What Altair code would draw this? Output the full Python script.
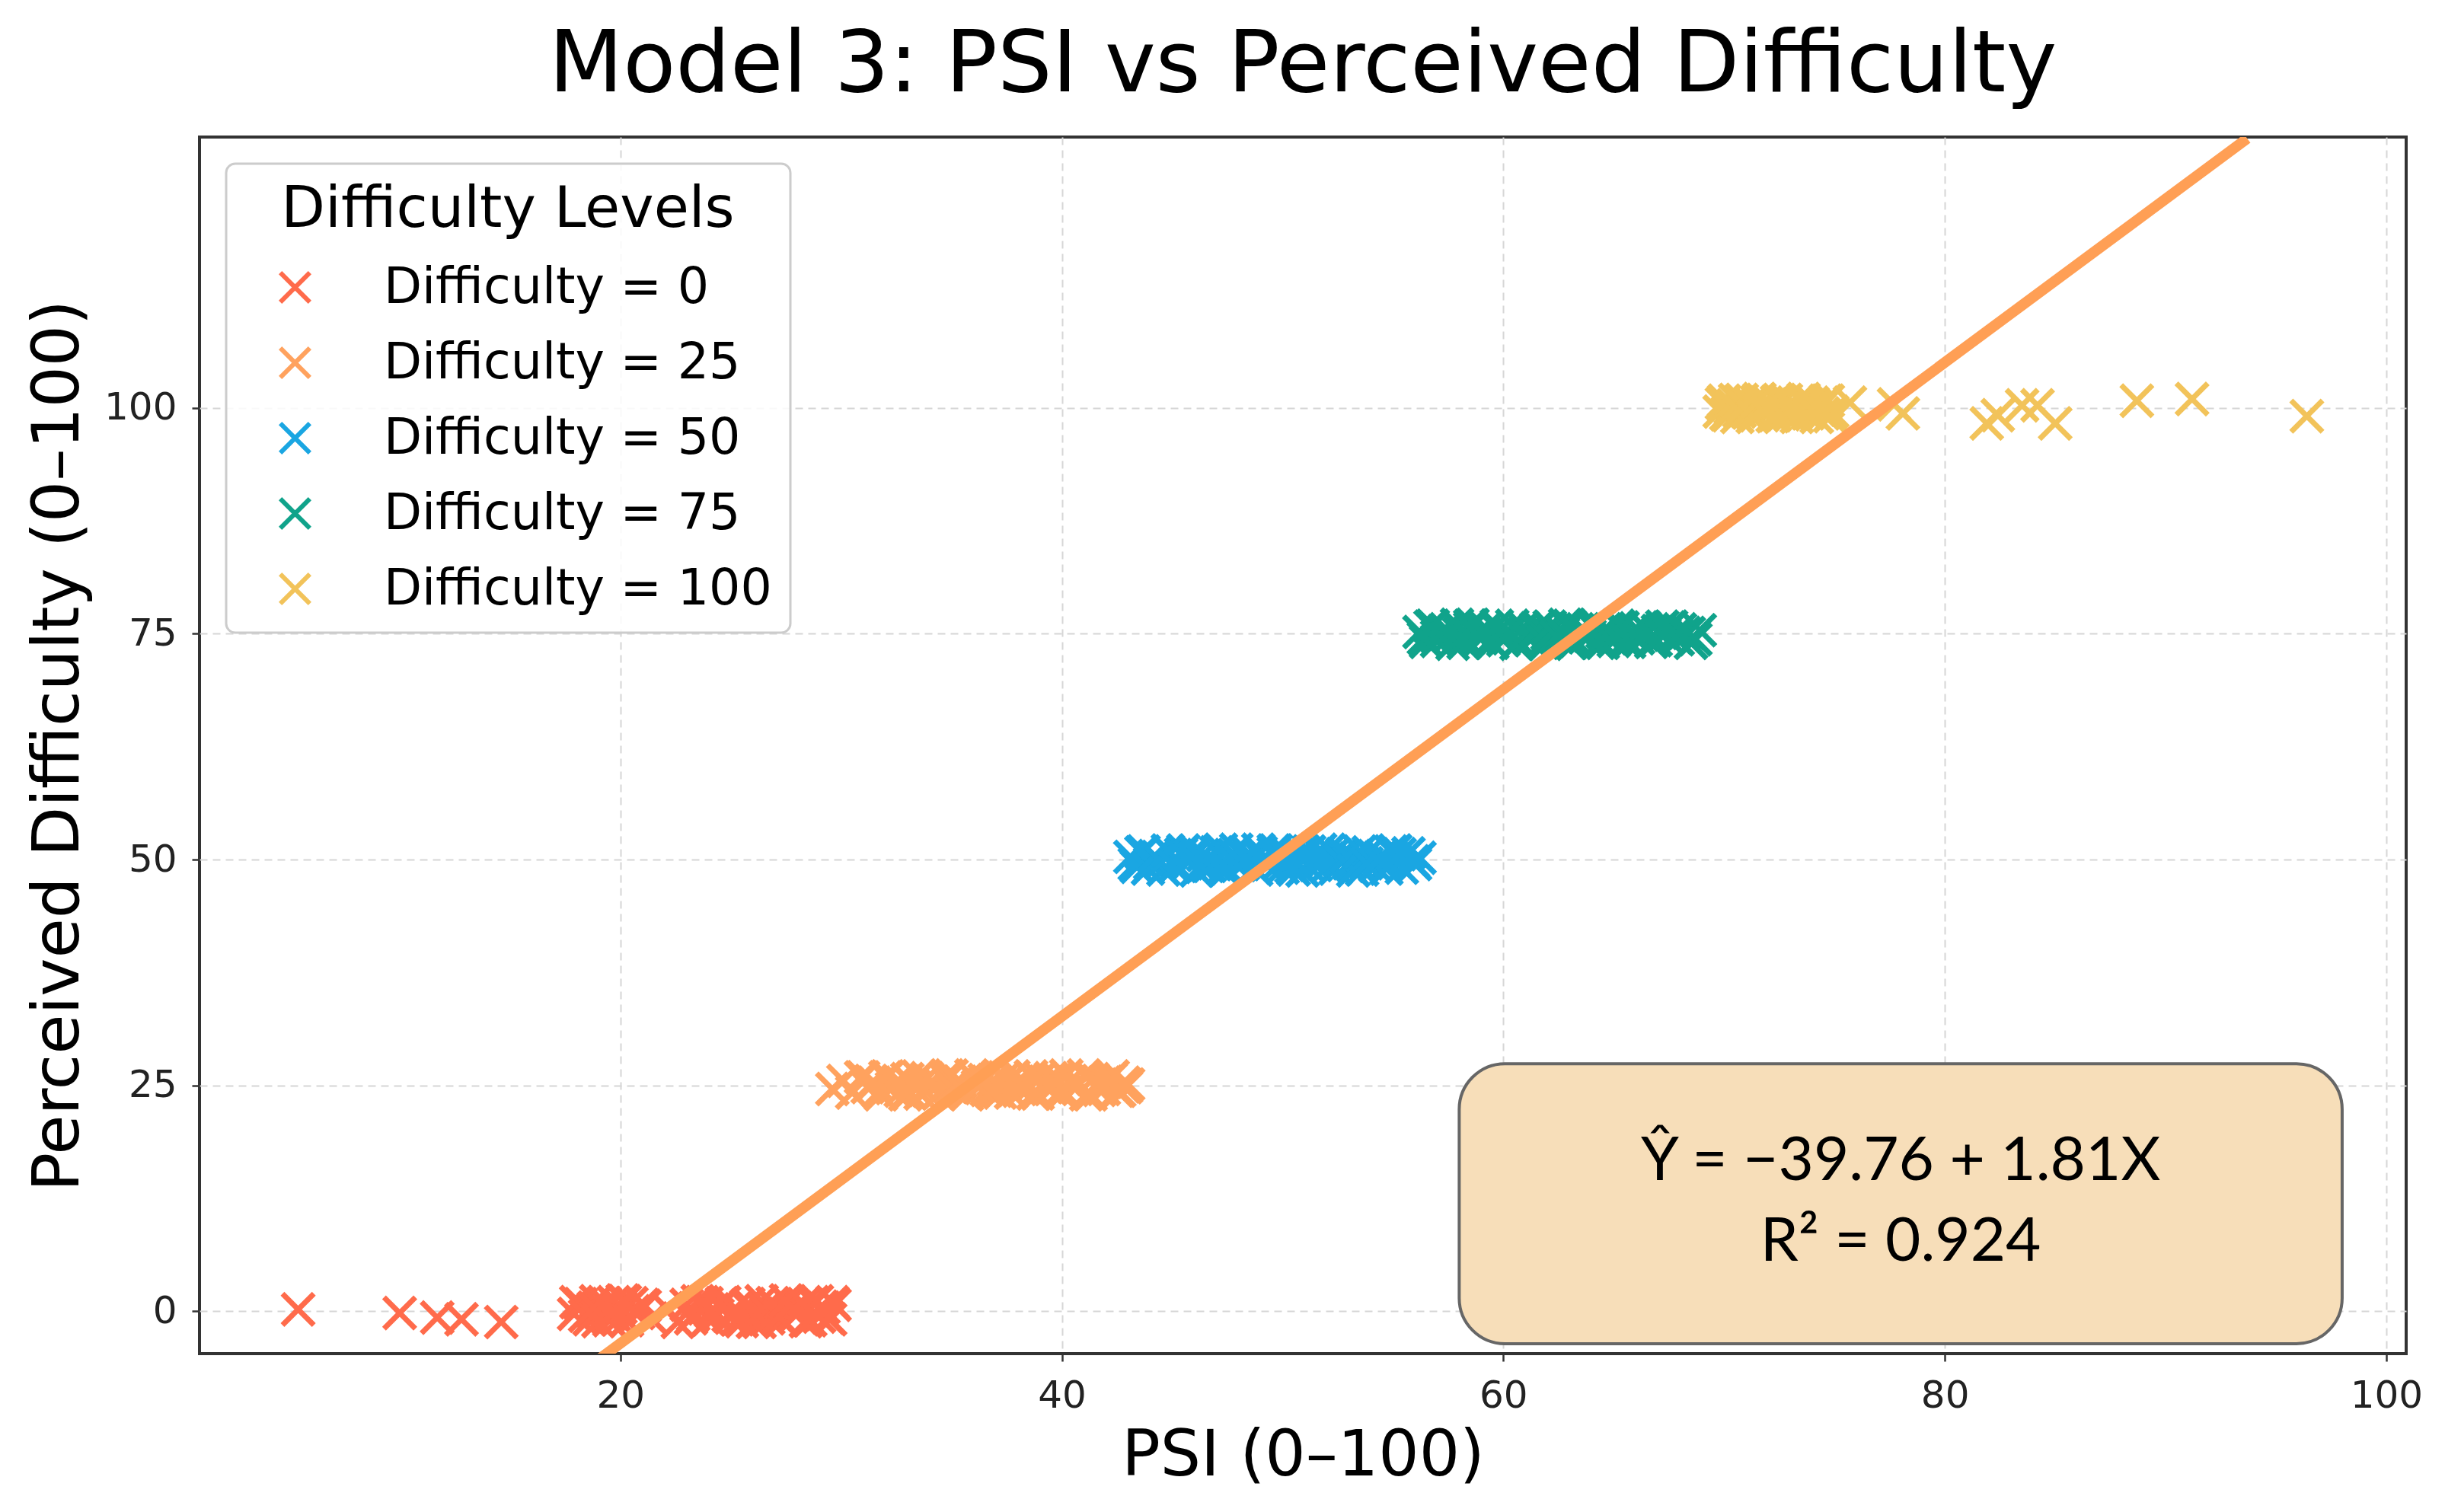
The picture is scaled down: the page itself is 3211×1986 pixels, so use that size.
import altair as alt
import pandas as pd

TITLE = "Model 3: PSI vs Perceived Difficulty"
X_TITLE = "PSI (0–100)"
Y_TITLE = "Perceived Difficulty (0–100)"
LEGEND_TITLE = "Difficulty Levels"
LEVELS = ["Difficulty = 0", "Difficulty = 25", "Difficulty = 50",
          "Difficulty = 75", "Difficulty = 100"]
COLORS = ["#FF6B4B", "#FFA25E", "#1AA6E2", "#10A38B", "#F2C35A"]
X_TICKS = [20, 40, 60, 80, 100]
Y_TICKS = [0, 25, 50, 75, 100]

x0 = [5.4, 10.0, 11.7, 12.8, 14.6,
      17.9, 18.2, 18.6, 18.9, 19.2, 19.4, 19.7, 20.0, 20.3, 20.5,
      20.8, 21.1, 21.4, 22.1, 22.6, 23.0, 23.3, 23.7, 24.0, 24.2,
      24.6, 24.9, 25.2, 25.5, 25.8, 26.1, 26.4, 26.7, 27.0, 27.3,
      27.6, 27.9, 28.2, 28.4, 28.7, 29.0, 29.2, 29.5, 29.7, 18.7,
      19.5, 20.1, 23.9, 25.0, 26.3, 27.8, 28.9]
y0 = [0.2, -0.2, -0.7, -0.9, -1.2,
      -0.3, 0.8, -0.9, 1.1, 0.2, -0.6, 1.0, 0.4, -1.0, 0.9,
      -0.2, 0.6, -0.8, 0.3, -1.2, 0.7, -0.4, 1.0, -0.9, 0.2,
      0.9, -0.5, 0.3, -1.1, 0.8, -0.2, 1.1, -0.8, 0.5, -1.0,
      0.9, -0.3, 0.6, -1.1, 1.0, -0.6, 0.4, -0.9, 0.7, 0.1,
      -1.0, 1.2, 0.9, -0.7, -1.2, 0.1, 1.1]
x0b = [18.0, 18.4, 18.8, 19.0, 19.3, 19.6, 19.9, 20.2, 20.6, 21.0,
       23.2, 23.5, 23.8, 24.4, 24.7, 25.3, 25.7, 26.0, 26.5, 26.9,
       27.2, 27.5, 28.0, 28.3, 28.6, 29.1, 29.4, 29.6, 24.1, 26.2]
y0b = [1.0, -0.5, 0.4, -1.1, 0.9, -0.2, -0.9, 1.1, 0.0, 0.7,
       -0.8, 1.1, 0.3, -0.4, 1.0, -0.9, 0.6, -1.2, 0.2, 0.9,
       -0.6, 1.2, -0.3, 0.8, -1.0, 0.5, -0.7, 1.0, 0.0, -0.3]

x25 = [29.6, 30.1, 30.5, 30.9, 31.2, 31.5, 31.8, 32.1, 32.4, 32.7,
       33.0, 33.3, 33.6, 33.9, 34.2, 34.5, 34.8, 35.1, 35.4, 35.7,
       36.0, 36.3, 36.6, 36.9, 37.2, 37.5, 37.8, 38.1, 38.4, 38.7,
       39.0, 39.3, 39.6, 39.9, 40.2, 40.5, 40.8, 41.1, 41.4, 41.7,
       42.0, 42.3, 42.6, 43.0, 31.0, 33.1, 35.0, 36.8, 38.2, 40.0,
       41.9, 34.0, 37.0, 39.5, 42.8]
y25 = [24.6, 25.5, 24.2, 25.9, 24.8, 25.3, 24.0, 26.0, 25.1, 24.4,
       25.7, 24.9, 24.1, 25.8, 25.2, 24.3, 26.1, 24.7, 25.4, 24.0,
       25.9, 25.0, 24.5, 25.6, 24.2, 25.3, 26.0, 24.6, 25.1, 24.1,
       25.8, 24.8, 25.5, 24.3, 26.1, 24.9, 25.2, 24.0, 25.7, 24.5,
       25.4, 26.0, 24.4, 25.1, 25.9, 24.2, 26.1, 24.7, 25.6, 24.1,
       25.3, 25.0, 24.4, 25.8, 24.9]
x25b = [31.4, 31.7, 32.0, 32.3, 32.6, 32.9, 33.2, 33.5, 33.8, 34.1,
        34.4, 34.7, 35.0, 35.3, 35.6, 35.9, 36.2, 36.5, 36.8, 37.1,
        37.4, 37.7, 38.0, 38.3, 38.6, 38.9, 39.2, 39.5, 39.8, 40.1,
        40.4, 40.7, 41.0, 41.3, 41.6, 41.9, 42.2, 42.5, 42.8, 42.9]
y25b = [25.2, 24.3, 25.9, 24.7, 25.5, 24.0, 25.1, 26.0, 24.5, 25.4,
        24.1, 25.8, 24.8, 25.3, 24.2, 26.1, 24.9, 25.6, 24.4, 25.0,
        25.9, 24.2, 25.4, 24.7, 26.0, 24.1, 25.2, 24.6, 25.8, 24.3,
        25.5, 24.9, 26.1, 24.0, 25.1, 24.6, 25.7, 24.4, 25.3, 24.8]

x50 = [43.1, 43.4, 43.7, 44.0, 44.3, 44.6, 44.9, 45.2, 45.5, 45.8,
       46.1, 46.4, 46.7, 47.0, 47.3, 47.6, 47.9, 48.2, 48.5, 48.8,
       49.1, 49.4, 49.7, 50.0, 50.3, 50.6, 50.9, 51.2, 51.5, 51.8,
       52.1, 52.4, 52.7, 53.0, 53.3, 53.6, 53.9, 54.2, 54.5, 54.8,
       55.1, 55.4, 55.7, 56.0, 56.2, 44.2, 45.9, 47.4, 48.9, 50.4,
       51.9, 53.4, 54.9, 46.6, 49.6]
y50 = [50.3, 49.2, 50.9, 49.6, 50.1, 48.9, 50.7, 49.4, 51.0, 49.9,
       48.8, 50.5, 49.3, 50.8, 49.0, 50.2, 51.1, 49.5, 50.6, 48.9,
       50.0, 49.7, 51.0, 49.1, 50.4, 49.8, 48.8, 50.9, 49.4, 50.3,
       51.1, 49.0, 50.6, 49.6, 50.1, 48.9, 50.8, 49.3, 50.4, 49.8,
       51.0, 49.1, 50.7, 49.5, 50.2, 49.9, 50.5, 48.8, 51.1, 49.2,
       50.0, 49.6, 50.9, 49.3, 50.7]
x50b = [43.3, 43.6, 43.9, 44.2, 44.5, 44.8, 45.1, 45.4, 45.7, 46.0,
        46.3, 46.6, 46.9, 47.2, 47.5, 47.8, 48.1, 48.4, 48.7, 49.0,
        49.3, 49.6, 49.9, 50.2, 50.5, 50.8, 51.1, 51.4, 51.7, 52.0,
        52.3, 52.6, 52.9, 53.2, 53.5, 53.8, 54.4, 54.7, 55.3, 55.9]
y50b = [49.5, 50.8, 49.0, 50.4, 49.7, 51.0, 49.2, 50.6, 49.9, 50.9,
        49.3, 50.1, 49.6, 51.1, 49.0, 50.5, 49.8, 50.2, 49.1, 50.8,
        49.4, 51.0, 49.7, 50.3, 48.9, 50.7, 49.5, 50.0, 51.1, 49.2,
        50.6, 49.9, 50.4, 48.8, 50.9, 49.6, 50.2, 49.0, 50.6, 49.8]

x75 = [56.2, 56.5, 56.8, 57.1, 57.4, 57.7, 58.0, 58.3, 58.6, 58.9,
       59.2, 59.5, 59.8, 60.1, 60.4, 60.7, 61.0, 61.3, 61.6, 61.9,
       62.2, 62.5, 62.8, 63.1, 63.4, 63.7, 64.0, 64.3, 64.6, 64.9,
       65.2, 65.5, 65.8, 66.1, 66.4, 66.7, 67.0, 67.3, 67.6, 67.9,
       68.2, 68.5, 68.9, 57.0, 58.5, 60.0, 61.5, 63.0, 64.5, 66.0,
       67.5, 59.0, 62.0, 65.0, 68.0]
y75 = [75.2, 74.1, 75.9, 74.6, 75.5, 73.9, 75.0, 74.4, 76.0, 74.8,
       75.6, 74.0, 75.3, 74.7, 75.9, 74.2, 75.1, 74.5, 75.7, 73.9,
       75.4, 74.9, 76.0, 74.3, 75.2, 74.6, 75.8, 74.0, 75.5, 74.8,
       75.9, 74.2, 75.0, 74.5, 75.7, 74.1, 75.3, 74.9, 75.8, 74.4,
       75.1, 74.0, 75.4, 74.7, 75.9, 74.3, 75.6, 74.0, 75.2, 74.8,
       75.7, 74.5, 75.0, 74.2, 75.5]
x75b = [56.4, 56.7, 57.0, 57.3, 57.6, 57.9, 58.2, 58.5, 58.8, 59.1,
        59.4, 59.7, 60.0, 60.3, 60.6, 60.9, 61.2, 61.5, 61.8, 62.1,
        62.4, 62.7, 63.0, 63.3, 63.6, 63.9, 64.2, 64.5, 64.8, 65.1,
        65.4, 65.7, 66.0, 66.3, 66.6, 66.9, 67.2, 67.8, 68.4, 68.7]
y75b = [74.5, 75.8, 74.2, 75.3, 74.8, 76.0, 74.0, 75.6, 74.9, 75.2,
        74.3, 75.9, 74.6, 75.1, 73.9, 75.7, 74.4, 75.4, 74.1, 75.8,
        74.7, 75.0, 75.9, 74.2, 75.5, 74.8, 76.0, 74.0, 75.3, 74.5,
        75.7, 74.1, 75.6, 74.9, 75.2, 74.3, 75.8, 74.6, 75.1, 74.4]

x100 = [69.8, 70.0, 70.2, 70.4, 70.6, 70.8, 71.0, 71.2, 71.4, 71.6,
        71.8, 72.0, 72.2, 72.4, 72.6, 72.8, 73.0, 73.2, 73.4, 73.6,
        73.8, 74.0, 74.2, 74.4, 74.6, 74.9, 70.3, 71.1, 71.9, 72.7,
        73.5, 74.3, 75.7, 77.7, 78.1, 81.9, 82.4, 83.5, 84.2, 85.0,
        88.7, 91.2, 96.4]
y100 = [99.6, 100.8, 99.2, 100.3, 99.0, 100.9, 99.7, 100.5, 99.3, 101.0,
        99.8, 100.2, 99.1, 100.7, 99.5, 100.9, 99.2, 100.4, 99.9, 101.0,
        99.4, 100.6, 99.0, 100.1, 100.8, 99.6, 100.0, 99.5, 100.6, 99.3,
        100.7, 99.8, 100.6, 100.4, 99.4, 98.3, 99.2, 100.3, 100.3, 98.3,
        100.8, 101.0, 99.1]
x100b = [69.9, 70.1, 70.5, 70.7, 70.9, 71.3, 71.5, 71.7, 72.1, 72.3,
         72.5, 72.9, 73.1, 73.3, 73.7, 73.9, 74.1, 74.5, 74.7, 74.8]
y100b = [100.5, 99.3, 100.9, 99.6, 100.2, 99.0, 100.7, 99.8, 100.4, 99.2,
         100.9, 99.5, 100.1, 99.0, 100.6, 99.9, 100.3, 99.4, 100.8, 99.1]

# regression model
INTERCEPT = -39.76
SLOPE = 1.81
R2 = 0.924
FIT_X = [5.4, 93.7]

EQ_LINES = ["Ŷ = −39.76 + 1.81X", "R² = 0.924"]
EQ_X = [78.0, 78.0]
EQ_Y = [16.5, 7.6]
BOX = {"x": 58.0, "x2": 98.0, "y": 27.4, "y2": -3.6}

X_DOMAIN = [0.93, 100.9]
Y_DOMAIN = [-4.7, 130.0]

XPATH = "M -1 -1 L 1 1 M -1 1 L 1 -1"

series_x = [x0 + x0b, x25 + x25b, x50 + x50b, x75 + x75b, x100 + x100b]
series_y = [y0 + y0b, y25 + y25b, y50 + y50b, y75 + y75b, y100 + y100b]
rows = []
for lvl, xs, ys in zip(LEVELS, series_x, series_y):
    for a, b in zip(xs, ys):
        rows.append({"psi": a, "perc": b, "level": lvl})
pts = pd.DataFrame(rows)

fit = pd.DataFrame({"psi": FIT_X, "perc": [INTERCEPT + SLOPE * v for v in FIT_X]})
box = pd.DataFrame([{"psi": BOX["x"], "psi2": BOX["x2"], "perc": BOX["y"], "perc2": BOX["y2"]}])
eq = pd.DataFrame({"psi": EQ_X, "perc": EQ_Y, "txt": EQ_LINES})


def xenc():
    return alt.X("psi:Q", scale=alt.Scale(domain=X_DOMAIN, nice=False, zero=False),
                 axis=alt.Axis(values=X_TICKS, title=X_TITLE, titlePadding=13,
                               titleFontSize=84))


def yenc():
    return alt.Y("perc:Q", scale=alt.Scale(domain=Y_DOMAIN, nice=False, zero=False),
                 axis=alt.Axis(values=Y_TICKS, title=Y_TITLE, titlePadding=16,
                               titleFontSize=85))


points = alt.Chart(pts).mark_point(
    shape=XPATH, filled=False, size=1700, strokeWidth=7, opacity=1
).encode(
    x=xenc(), y=yenc(),
    color=alt.Color("level:N", sort=LEVELS,
                    scale=alt.Scale(domain=LEVELS, range=COLORS),
                    legend=alt.Legend(title=LEGEND_TITLE, orient="none",
                                      legendX=35, legendY=35)),
)

line = alt.Chart(fit).mark_line(clip=True, color="#FF9F55", strokeWidth=14,
                                strokeCap="butt").encode(x=xenc(), y=yenc())

rect = alt.Chart(box).mark_rect(cornerRadius=60, fill="#F7DEB9", stroke="#666666",
                                strokeWidth=4).encode(
    x=xenc(), x2="psi2:Q", y=yenc(), y2="perc2:Q")

text = alt.Chart(eq).mark_text(font="Lato", fontSize=80, align="center",
                               baseline="middle", color="#000000").encode(
    x=xenc(), y=yenc(), text="txt:N")

chart = alt.layer(points, line, rect, text).properties(
    width=2898, height=1598,
    title=alt.TitleParams(TITLE, font="DejaVu Sans", fontSize=113, fontWeight="normal",
                          color="#000000", anchor="middle", baseline="alphabetic",
                          offset=58, dy=111),
    autosize=alt.AutoSizeParams(type="none"),
    padding={"left": 254, "top": 172, "right": 43, "bottom": 200},
).configure_view(
    stroke="#333333", strokeWidth=4
).configure_axis(
    domain=False, grid=True, gridColor="#d6d6d6", gridDash=[10, 7], gridWidth=2,
    tickColor="#333333", tickSize=10, tickWidth=2.5,
    labelFont="DejaVu Sans", labelFontSize=50, labelColor="#222222", labelPadding=20,
    titleFont="DejaVu Sans", titleFontWeight="normal", titleColor="#000000",
).configure_legend(
    titleFont="DejaVu Sans", titleFontSize=75, titleFontWeight="normal", titleColor="#000000",
    labelFont="DejaVu Sans", labelFontSize=65, labelColor="#000000",
    labelLimit=2000, titleLimit=2000,
    symbolType=XPATH, symbolSize=1500, symbolStrokeWidth=6, symbolOffset=34,
    labelOffset=84, padding=24, rowPadding=33, titlePadding=31, titleAnchor="middle",
    fillColor="rgba(255,255,255,0.85)", strokeColor="#cccccc", strokeWidth=3,
    cornerRadius=12,
)

chart.save("out.html", embed_options={"renderer": "svg", "actions": False})
